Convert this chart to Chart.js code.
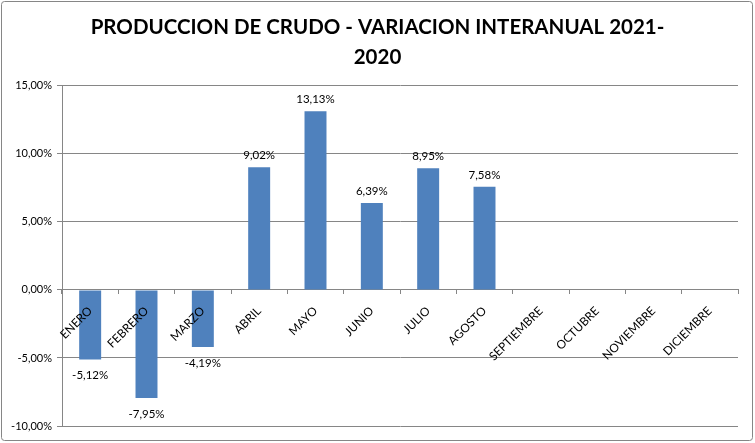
<!DOCTYPE html>
<html>
<head>
<meta charset="utf-8">
<script src="https://cdn.jsdelivr.net/npm/chart.js@4"></script>
<style>
html,body{margin:0;padding:0;background:#fff;}
#wrap{width:755px;height:443px;position:relative;}
</style>
</head>
<body>
<div id="wrap"><canvas id="c" width="755" height="443"></canvas></div>
<script>
const categories = ['ENERO','FEBRERO','MARZO','ABRIL','MAYO','JUNIO','JULIO','AGOSTO','SEPTIEMBRE','OCTUBRE','NOVIEMBRE','DICIEMBRE'];
const variacion = [-5.12, -7.95, -4.19, 9.02, 13.13, 6.39, 8.95, 7.58, null, null, null, null];
const yTicks = [-10, -5, 0, 5, 10, 15];
const titleLines = ['PRODUCCION DE CRUDO - VARIACION INTERANUAL 2021-', '2020'];

const fmt = v => v.toFixed(2).replace('.', ',') + '%';
const FONT = 'Lato, "Liberation Sans", sans-serif';
const GRID = '#868686';

const frame = {
  id: 'frame',
  beforeDraw(chart) {
    const ctx = chart.ctx;
    ctx.save();
    ctx.fillStyle = '#fff';
    ctx.fillRect(0, 0, chart.width, chart.height);
    ctx.strokeStyle = GRID;
    ctx.lineWidth = 1;
    ctx.beginPath();
    ctx.roundRect(1.5, 1.5, 751, 439, 3);
    ctx.stroke();
    ctx.restore();
  }
};

const valueLabels = {
  id: 'valueLabels',
  afterDatasetsDraw(chart) {
    const ctx = chart.ctx;
    const meta = chart.getDatasetMeta(0);
    ctx.save();
    ctx.font = '11.5px ' + FONT;
    ctx.fillStyle = '#000';
    ctx.textAlign = 'center';
    ctx.textBaseline = 'middle';
    meta.data.forEach((bar, i) => {
      const v = variacion[i];
      if (v === null || v === undefined) return;
      const y = v >= 0 ? bar.y - 12 : bar.y + 16;
      ctx.fillText(fmt(v), bar.x, y);
    });
    ctx.restore();
  }
};

new Chart(document.getElementById('c'), {
  type: 'bar',
  data: {
    labels: categories,
    datasets: [{
      data: variacion,
      backgroundColor: '#4F81BD',
      borderWidth: 0,
      categoryPercentage: 1,
      barPercentage: 0.39
    }]
  },
  options: {
    responsive: false,
    animation: false,
    layout: { padding: { left: 0, right: 0, top: 0, bottom: 17 } },
    plugins: {
      legend: { display: false },
      tooltip: { enabled: false },
      title: {
        display: true,
        text: titleLines,
        color: '#000',
        font: { family: FONT, size: 20.5, weight: 'bold', lineHeight: 1.46 },
        padding: { top: 12, bottom: 14 }
      }
    },
    scales: {
      x: {
        position: { y: 0 },
        offset: true,
        grid: { display: true, drawOnChartArea: false, offset: true, tickLength: 4, color: GRID },
        border: { display: true, color: GRID },
        ticks: {
          z: 1,
          autoSkip: false,
          minRotation: 45,
          maxRotation: 45,
          color: '#000',
          padding: 10,
          font: { family: FONT, size: 11.8 }
        }
      },
      y: {
        min: -10,
        max: 15,
        afterBuildTicks(scale) { scale.ticks = yTicks.map(v => ({ value: v })); },
        afterFit(scale) { scale.width = 62; },
        grid: { color: GRID, tickLength: 5 },
        border: { display: true, color: GRID },
        ticks: {
          color: '#000',
          padding: 5,
          font: { family: FONT, size: 11 },
          callback: v => fmt(v)
        }
      },
      yRight: {
        position: 'right',
        min: -10,
        max: 15,
        afterFit(scale) { scale.width = 17; },
        grid: { display: false },
        border: { display: false },
        ticks: { display: false }
      }
    }
  },
  plugins: [frame, valueLabels]
});
</script>
</body>
</html>
